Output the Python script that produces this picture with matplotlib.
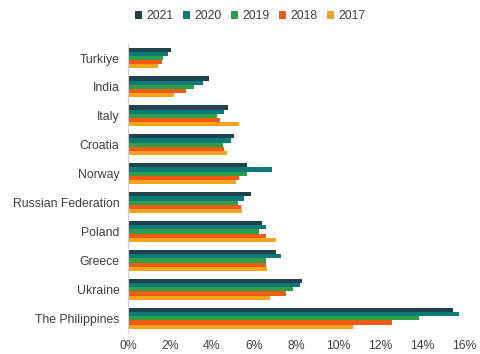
import matplotlib
matplotlib.use("Agg")
import matplotlib.pyplot as plt
import numpy as np

plt.rcParams['font.family'] = ['Liberation Sans', 'DejaVu Sans']

countries = ["Turkiye", "India", "Italy", "Croatia", "Norway", "Russian Federation",
             "Poland", "Greece", "Ukraine", "The Philippines"]
years = ["2021", "2020", "2019", "2018", "2017"]
v2021 = [2.05, 3.85, 4.75, 5.05, 5.65, 5.85, 6.4, 7.05, 8.3, 15.45]
v2020 = [1.9, 3.55, 4.55, 4.9, 6.85, 5.5, 6.55, 7.3, 8.2, 15.75]
v2019 = [1.65, 3.15, 4.25, 4.5, 5.65, 5.25, 6.25, 6.55, 7.85, 13.85]
v2018 = [1.6, 2.75, 4.4, 4.55, 5.3, 5.4, 6.55, 6.55, 7.5, 12.55]
v2017 = [1.45, 2.2, 5.3, 4.7, 5.15, 5.45, 7.05, 6.6, 6.75, 10.7]
series = [v2021, v2020, v2019, v2018, v2017]
colors = ["#1f4450", "#0b7b77", "#2e9e48", "#f25a12", "#f9a31c"]

fig = plt.figure(figsize=(4.81, 3.54), dpi=100)
ax = fig.add_axes([0.266, 0.06, 0.699, 0.817])

n = len(countries)
y = np.arange(n)
bh = 0.145
for i, (vals, c, yr) in enumerate(zip(series, colors, years)):
    ax.barh(y + (i - 2) * bh, vals, height=bh, color=c, label=yr)

ax.set_ylim(n - 0.5, -0.5)
ax.set_xlim(0, 16)
ax.set_yticks(y)
ax.set_yticklabels(countries, fontsize=8.8, color="#404040")
ticks = np.arange(0, 17, 2)
ax.set_xticks(ticks)
ax.set_xticklabels([f"{t}%" for t in ticks], fontsize=8.8, color="#404040")
ax.tick_params(length=0)
ax.tick_params(axis='y', pad=6)
ax.tick_params(axis='x', pad=5)
for s in ["top", "right", "bottom"]:
    ax.spines[s].set_visible(False)
ax.spines["left"].set_color("#d0d0d0")

fig.legend(loc="center", bbox_to_anchor=(0.52, 0.955), ncol=5, frameon=False,
           fontsize=8.8, handlelength=0.6, handleheight=0.6, handletextpad=0.3,
           columnspacing=0.8, labelcolor="#404040")

fig.savefig("out.png", dpi=100)
